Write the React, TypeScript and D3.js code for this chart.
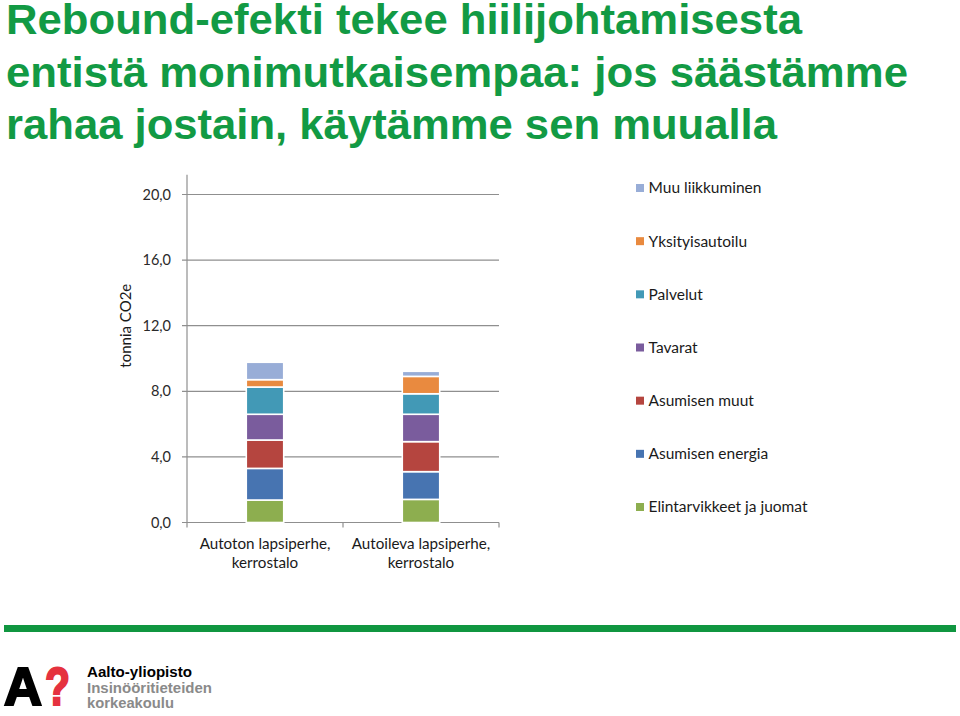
import React from "react";
import * as d3 from "d3";

const titleLines = [
  "Rebound-efekti tekee hiilijohtamisesta",
  "entistä monimutkaisempaa: jos säästämme",
  "rahaa jostain, käytämme sen muualla",
];
const titleWidths = [796, 902, 771];

const categories = ["Autoton lapsiperhe, kerrostalo", "Autoileva lapsiperhe, kerrostalo"];
const categoryLines = [
  ["Autoton lapsiperhe,", "kerrostalo"],
  ["Autoileva lapsiperhe,", "kerrostalo"],
];

const seriesNames = [
  "Elintarvikkeet ja juomat",
  "Asumisen energia",
  "Asumisen muut",
  "Tavarat",
  "Palvelut",
  "Yksityisautoilu",
  "Muu liikkuminen",
];
const elintarvikkeet = [1.37, 1.41];
const asumisenEnergia = [1.93, 1.69];
const asumisenMuut = [1.73, 1.83];
const tavarat = [1.57, 1.67];
const palvelut = [1.66, 1.25];
const yksityisautoilu = [0.45, 1.06];
const muuLiikkuminen = [1.06, 0.31];
const seriesValues = [elintarvikkeet, asumisenEnergia, asumisenMuut, tavarat, palvelut, yksityisautoilu, muuLiikkuminen];
const seriesColors = ["#8DAE4F", "#4774B1", "#B5453F", "#7A5C9D", "#4299B6", "#E98A3F", "#98ADD7"];

const yTicks = [0, 4, 8, 12, 16, 20];
const yLabel = "tonnia CO2e";

export default function App() {
  const W = 960, H = 716;
  const x = d3.scaleBand<string>().domain(categories).range([187, 499]).padding(0);
  const y = d3.scaleLinear().domain([0, 20]).range([522.5, 194.5]);
  const barW = x.bandwidth() * 0.24;
  const fmt = (v: number) => d3.format(".1f")(v).replace(".", ",");

  const table = categories.map((c, i) => {
    const row: Record<string, number | string> = { cat: c };
    seriesNames.forEach((s, j) => (row[s] = seriesValues[j][i]));
    return row;
  });
  const stacked = d3.stack<any>().keys(seriesNames)(table as any);

  const legendY = d3.scalePoint<string>().domain([...seriesNames].reverse()).range([188, 507]);
  const chartFont = "Lato, 'Open Sans', sans-serif";
  const green = "#129A44";
  const sans = "'Liberation Sans', Arial, sans-serif";

  return (
    <svg width={W} height={H} style={{ position: "absolute", left: 0, top: 0, background: "#fff" }}>
      <rect width={W} height={H} fill="#fff" />
      {titleLines.map((t, i) => (
        <text
          key={i}
          x={6}
          y={34 + i * 52.5}
          fill={green}
          fontFamily={sans}
          fontWeight="bold"
          fontSize={43}
          textLength={titleWidths[i]}
          lengthAdjust="spacingAndGlyphs"
        >
          {t}
        </text>
      ))}

      {/* gridlines */}
      {yTicks.map((t) => (
        <g key={t}>
          <line x1={182} x2={499} y1={y(t)} y2={y(t)} stroke="#8f8f8f" strokeWidth={1.2} />
          <text x={171} y={y(t)} dy="0.35em" textAnchor="end" fontFamily={chartFont} fontSize={14.5} fill="#2a2a2a">
            {fmt(t)}
          </text>
        </g>
      ))}
      {/* axes */}
      <line x1={187} x2={187} y1={y(0)} y2={y(21.2)} stroke="#8f8f8f" strokeWidth={1.2} />
      {[...categories.map((c) => x(c)!), x.range()[1]].map((px, i) => (
        <line key={i} x1={px} x2={px} y1={y(0)} y2={y(0) + 5} stroke="#8f8f8f" strokeWidth={1.2} />
      ))}
      <text
        transform={`translate(131, ${y(12)}) rotate(-90)`}
        textAnchor="middle"
        fontFamily={chartFont}
        fontSize={15}
        fill="#1a1a1a"
      >
        {yLabel}
      </text>

      {/* bars */}
      {stacked.map((layer, j) => (
        <g key={layer.key} fill={seriesColors[j]}>
          {layer.map((d, i) => {
            const cx = x(categories[i])! + x.bandwidth() / 2;
            return (
              <rect
                key={i}
                x={cx - barW / 2}
                width={barW}
                y={y(d[1])}
                height={y(d[0]) - y(d[1])}
                stroke="#fff"
                strokeWidth={1.6}
              />
            );
          })}
        </g>
      ))}

      {/* category labels */}
      {categoryLines.map((lines, i) => (
        <text
          key={i}
          textAnchor="middle"
          fontFamily={chartFont}
          fontSize={15.2}
          fill="#1a1a1a"
        >
          {lines.map((l, k) => (
            <tspan key={k} x={x(categories[i])! + x.bandwidth() / 2} y={549 + k * 19}>
              {l}
            </tspan>
          ))}
        </text>
      ))}

      {/* legend */}
      {seriesNames.map((s, j) => (
        <g key={s} transform={`translate(636, ${legendY(s)})`}>
          <rect x={0} y={-4} width={8} height={8} fill={seriesColors[j]} />
          <text x={12.5} dy="0.35em" fontFamily={chartFont} fontSize={15.5} fill="#1a1a1a">
            {s}
          </text>
        </g>
      ))}

      {/* footer */}
      <rect x={4} y={625} width={952} height={7} fill="#109640" />
      <text x={4} y={705} fontFamily={sans} fontWeight="bold" fontSize={54} fill="#000" stroke="#000" strokeWidth={2.2} textLength={38} lengthAdjust="spacingAndGlyphs">
        A
      </text>
      <text x={45} y={705} fontFamily={sans} fontWeight="bold" fontSize={54} fill="#E5323F" stroke="#E5323F" strokeWidth={2.2} textLength={25} lengthAdjust="spacingAndGlyphs">
        ?
      </text>
      <text x={87} y={677} fontFamily={sans} fontWeight="bold" fontSize={15} fill="#000" textLength={105} lengthAdjust="spacingAndGlyphs">
        Aalto-yliopisto
      </text>
      <text x={87} y={693} fontFamily={sans} fontWeight="bold" fontSize={15} fill="#8a8a8a" textLength={125} lengthAdjust="spacingAndGlyphs">
        Insinööritieteiden
      </text>
      <text x={87} y={708} fontFamily={sans} fontWeight="bold" fontSize={15} fill="#8a8a8a" textLength={87} lengthAdjust="spacingAndGlyphs">
        korkeakoulu
      </text>
    </svg>
  );
}
